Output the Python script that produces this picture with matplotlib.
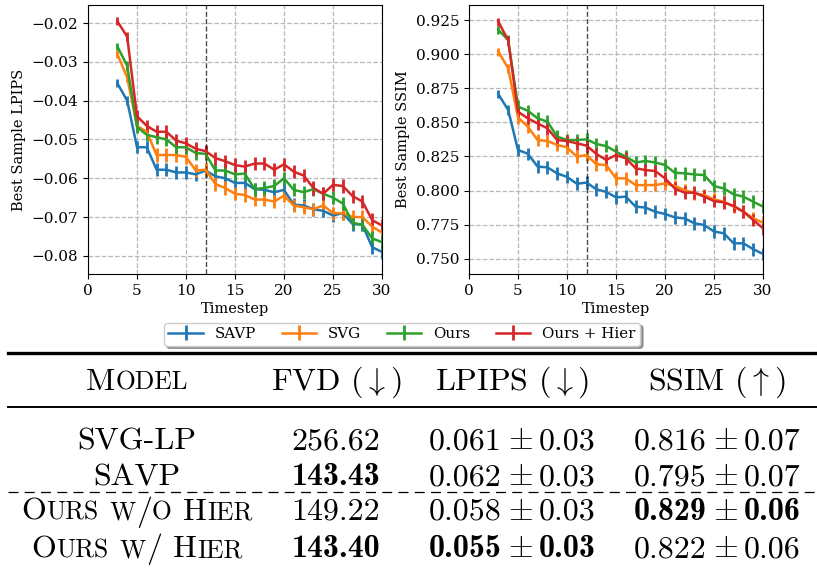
import matplotlib
matplotlib.use("Agg")
import matplotlib.pyplot as plt
from matplotlib.ticker import MultipleLocator

plt.rcParams["font.family"] = "DejaVu Serif"
plt.rcParams["mathtext.fontset"] = "cm"

# ---------------- data ----------------
timesteps = list(range(3, 31))
model_names = ["SAVP", "SVG", "Ours", "Ours + Hier"]
colors = ["#1f77b4", "#ff7f0e", "#2ca02c", "#d62728"]

lpips_savp = [-0.0355, -0.0400, -0.0520, -0.0520, -0.0578, -0.0578, -0.0585, -0.0585, -0.0590, -0.0580,
              -0.0595, -0.0600, -0.0612, -0.0612, -0.0628, -0.0630, -0.0636, -0.0630, -0.0668, -0.0670,
              -0.0680, -0.0684, -0.0696, -0.0690, -0.0718, -0.0720, -0.0778, -0.0790]
lpips_svg = [-0.0280, -0.0340, -0.0465, -0.0480, -0.0540, -0.0540, -0.0540, -0.0545, -0.0580, -0.0578,
             -0.0615, -0.0625, -0.0640, -0.0643, -0.0655, -0.0655, -0.0660, -0.0645, -0.0670, -0.0675,
             -0.0680, -0.0670, -0.0690, -0.0690, -0.0700, -0.0700, -0.0725, -0.0740]
lpips_ours = [-0.0260, -0.0310, -0.0468, -0.0488, -0.0494, -0.0500, -0.0520, -0.0520, -0.0535, -0.0537,
              -0.0580, -0.0580, -0.0590, -0.0588, -0.0628, -0.0625, -0.0620, -0.0600, -0.0630, -0.0636,
              -0.0628, -0.0640, -0.0650, -0.0665, -0.0715, -0.0720, -0.0755, -0.0765]
lpips_hier = [-0.0195, -0.0235, -0.0440, -0.0465, -0.0480, -0.0480, -0.0503, -0.0510, -0.0524, -0.0530,
              -0.0548, -0.0556, -0.0566, -0.0570, -0.0562, -0.0562, -0.0578, -0.0564, -0.0583, -0.0593,
              -0.0625, -0.0640, -0.0617, -0.0620, -0.0646, -0.0660, -0.0708, -0.0722]
lpips_err = [0.0010, 0.0012, 0.0016, 0.0016, 0.0017, 0.0017, 0.0017, 0.0017, 0.0017, 0.0017,
             0.0017, 0.0017, 0.0017, 0.0017, 0.0017, 0.0017, 0.0017, 0.0017, 0.0017, 0.0017,
             0.0017, 0.0017, 0.0017, 0.0017, 0.0017, 0.0017, 0.0018, 0.0018]

ssim_savp = [0.8705, 0.8590, 0.8297, 0.8270, 0.8175, 0.8170, 0.8125, 0.8100, 0.8050, 0.8058,
             0.8009, 0.7990, 0.7950, 0.7955, 0.7882, 0.7875, 0.7845, 0.7828, 0.7803, 0.7796,
             0.7760, 0.7747, 0.7700, 0.7686, 0.7613, 0.7613, 0.7570, 0.7535]
ssim_svg = [0.9018, 0.8896, 0.8536, 0.8468, 0.8370, 0.8363, 0.8334, 0.8317, 0.8248, 0.8260,
            0.8192, 0.8187, 0.8089, 0.8089, 0.8040, 0.8040, 0.8040, 0.8052, 0.8033, 0.8004,
            0.7980, 0.7967, 0.7935, 0.7918, 0.7882, 0.7845, 0.7796, 0.7764]
ssim_ours = [0.9177, 0.9103, 0.8615, 0.8585, 0.8529, 0.8505, 0.8395, 0.8370, 0.8370, 0.8375,
             0.8341, 0.8326, 0.8285, 0.8248, 0.8206, 0.8216, 0.8206, 0.8187, 0.8130, 0.8126,
             0.8118, 0.8113, 0.8033, 0.8015, 0.7972, 0.7955, 0.7918, 0.7882]
ssim_hier = [0.9238, 0.9100, 0.8578, 0.8529, 0.8492, 0.8456, 0.8370, 0.8363, 0.8346, 0.8329,
             0.8268, 0.8224, 0.8260, 0.8236, 0.8163, 0.8150, 0.8143, 0.8089, 0.8015, 0.7984,
             0.7984, 0.7955, 0.7923, 0.7913, 0.7887, 0.7845, 0.7784, 0.7723]
ssim_err = [0.0030, 0.0034, 0.0045, 0.0045, 0.0046, 0.0046, 0.0046, 0.0046, 0.0046, 0.0046,
            0.0046, 0.0046, 0.0046, 0.0046, 0.0046, 0.0046, 0.0046, 0.0046, 0.0046, 0.0046,
            0.0046, 0.0046, 0.0046, 0.0046, 0.0046, 0.0046, 0.0047, 0.0047]

lpips_series = [lpips_savp, lpips_svg, lpips_ours, lpips_hier]
ssim_series = [ssim_savp, ssim_svg, ssim_ours, ssim_hier]
context_step = 12

# table
table_header = ["FVD ($\\downarrow$)", "LPIPS ($\\downarrow$)", "SSIM ($\\uparrow$)"]
fvd_vals = ["256.62", "143.43", "149.22", "143.40"]
fvd_bold = [False, True, False, True]
lpips_vals = [("0.061", "0.03"), ("0.062", "0.03"), ("0.058", "0.03"), ("0.055", "0.03")]
lpips_bold = [False, False, False, True]
ssim_vals = [("0.816", "0.07"), ("0.795", "0.07"), ("0.829", "0.06"), ("0.822", "0.06")]
ssim_bold = [False, False, True, False]
# row names as words of (piece, full size?) for the small caps look
row_names = [
    [[("SVG-LP", True)]],
    [[("SAVP", True)]],
    [[("O", True), ("URS", False)], [("W", False), ("/", True), ("O", False)], [("H", True), ("IER", False)]],
    [[("O", True), ("URS", False)], [("W", False), ("/", True)], [("H", True), ("IER", False)]],
]
header_name = [[("M", True), ("ODEL", False)]]

# ---------------- plots ----------------
fig = plt.figure(figsize=(8.17, 5.71), dpi=100)
ax1 = fig.add_axes([88 / 817, 297 / 571, 294 / 817, 269 / 571])
ax2 = fig.add_axes([469 / 817, 297 / 571, 294 / 817, 269 / 571])


def draw_panel(ax, series, err, ylabel):
    handles = []
    for vals, name, col in zip(series, model_names, colors):
        h = ax.errorbar(timesteps, vals, yerr=err, color=col, label=name, lw=1.8, elinewidth=2, capsize=0)
        handles.append(h)
    ax.axvline(context_step, color="black", ls="--", lw=1, alpha=0.7)
    ax.grid(True, ls="--", color="#b8b8b8", lw=0.9)
    ax.set_axisbelow(True)
    ax.set_xlim(0, 30)
    ax.xaxis.set_major_locator(MultipleLocator(5))
    ax.set_xlabel("Timestep", fontsize=10.5, labelpad=3)
    ax.set_ylabel(ylabel, fontsize=10.5)
    ax.tick_params(labelsize=11)
    return handles


handles = draw_panel(ax1, lpips_series, lpips_err, "Best Sample LPIPS")
ax1.set_ylim(-0.0847, -0.0153)
ax1.yaxis.set_major_locator(MultipleLocator(0.01))
draw_panel(ax2, ssim_series, ssim_err, "Best Sample SSIM")
ax2.set_ylim(0.7388, 0.936)
ax2.yaxis.set_major_locator(MultipleLocator(0.025))

fig.legend(handles, model_names, ncol=4, loc="upper center", bbox_to_anchor=(402 / 817, 1 - 315 / 571),
           fontsize=10.8, shadow=True, fancybox=True, columnspacing=1.7, handlelength=2.3, borderpad=0.3)

# ---------------- table ----------------
tab = fig.add_axes([0, 0, 1, 1])
tab.set_xlim(0, 817)
tab.set_ylim(571, 0)
tab.axis("off")
renderer = fig.canvas.get_renderer()

fs = 23
em = fs * 100 / 72
col_x = [137, 336, 512, 717]
header_y = 390
row_y = [449, 485, 520, 557]

tab.plot([8, 817], [353, 353], color="black", lw=2.4)
tab.plot([8, 817], [407, 407], color="black", lw=1.4)
tab.plot([8, 817], [492, 492], color="black", lw=0.9, ls=(0, (8, 5)))


def centered_pieces(xc, y, pieces):
    # pieces: list of (text, fontsize, family, gap after in px)
    texts, widths, gaps = [], [], []
    for txt, size, fam, gap in pieces:
        t = tab.text(0, y, txt, fontsize=size, family=fam, ha="left", va="baseline")
        texts.append(t)
        widths.append(t.get_window_extent(renderer).width)
        gaps.append(gap)
    total = sum(widths) + sum(gaps[:-1])
    x = xc - total / 2
    for t, w, g in zip(texts, widths, gaps):
        t.set_x(x)
        x += w + g


def smallcaps(xc, y, words):
    pieces = []
    for wi, word in enumerate(words):
        for pi, (txt, big) in enumerate(word):
            last = pi == len(word) - 1 and wi < len(words) - 1
            pieces.append((txt, fs if big else fs * 0.8, "cmr10", 0.36 * em if last else 0))
    centered_pieces(xc, y, pieces)


def pm_cell(xc, y, a, b, bold):
    fam = "cmb10" if bold else "cmr10"
    gap = 0.2 * em
    centered_pieces(xc, y, [(a, fs, fam, gap), ("$\\pm$", fs, "cmr10", gap), (b, fs, fam, 0)])


smallcaps(col_x[0], header_y, header_name)
for hx, htxt in zip(col_x[1:], table_header):
    tab.text(hx, header_y, htxt, fontsize=fs, family="cmr10", ha="center", va="baseline")

for i, y in enumerate(row_y):
    smallcaps(col_x[0], y, row_names[i])
    tab.text(col_x[1], y, fvd_vals[i], fontsize=fs, family="cmb10" if fvd_bold[i] else "cmr10",
             ha="center", va="baseline")
    pm_cell(col_x[2], y, *lpips_vals[i], lpips_bold[i])
    pm_cell(col_x[3], y, *ssim_vals[i], ssim_bold[i])

fig.savefig("out.png", dpi=100)
